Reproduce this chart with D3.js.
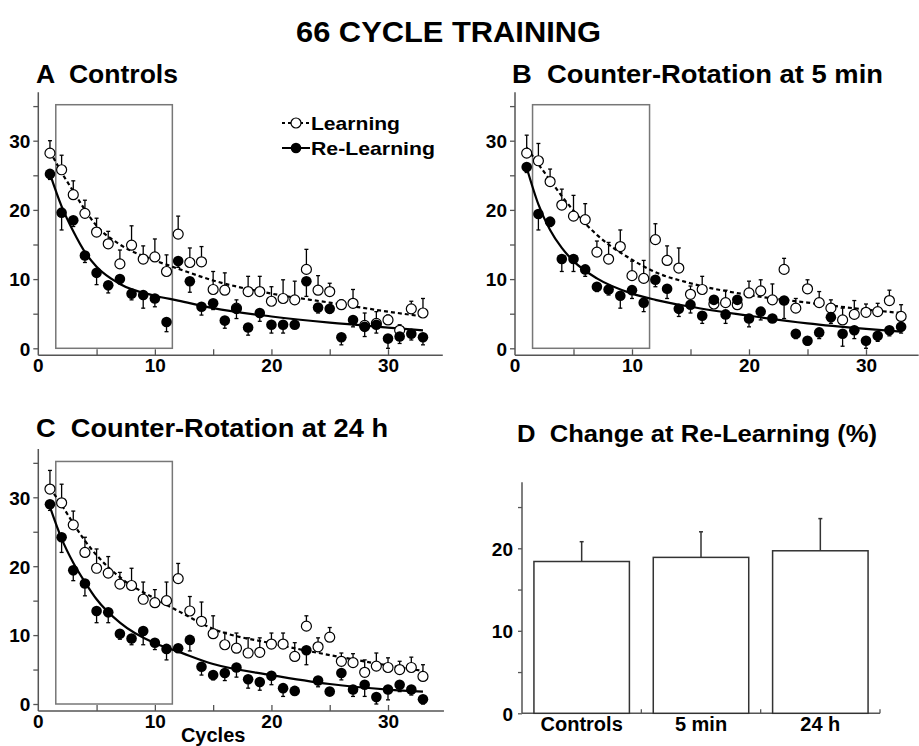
<!DOCTYPE html>
<html>
<head>
<meta charset="utf-8" />
<title>66 Cycle Training</title>
<style>
  body { margin: 0; background: #fff; }
  text { font-family: "Liberation Sans", Arial, Helvetica, sans-serif; font-weight: bold; fill: #000; white-space: pre; }
</style>
</head>
<body>
<script src="https://d3js.org/d3.v7.min.js"></script>
<script>

var cycles = [1,2,3,4,5,6,7,8,9,10,11,12,13,14,15,16,17,18,19,20,21,22,23,24,25,26,27,28,29,30,31,32,33];

// A  Controls
var ctrlLearn      = [28.2,25.8,22.2,19.5,16.8,15.1,12.2,14.9,12.9,13.2,11.1,16.5,12.4,12.5,8.5,8.4,5.8,8.2,8.2,6.8,7.2,7.0,11.4,8.4,8.2,6.3,6.5,3.3,3.6,4.1,2.6,5.7,5.1];
var ctrlLearnErr   = [30.0,27.9,24.2,21.4,18.8,16.9,14.2,17.7,14.8,15.8,13.5,19.1,14.5,14.7,11.1,10.9,7.0,10.4,10.4,8.9,9.9,9.7,14.3,10.5,9.4,7.0,8.5,5.1,5.3,4.8,3.4,6.8,7.2];
var ctrlRelearn    = [25.2,19.6,18.5,13.4,10.9,9.1,10.0,7.9,7.7,7.2,3.8,12.6,9.7,6.0,6.5,4.0,5.7,3.0,5.1,3.4,3.4,3.4,9.7,5.9,5.7,1.6,4.1,3.1,3.4,1.4,1.7,2.1,1.6];
var ctrlRelearnErr = [24.4,17.1,17.6,12.4,9.2,8.0,9.3,7.0,5.8,6.0,2.4,11.7,8.1,4.8,5.6,2.9,4.3,1.9,3.9,2.2,2.2,2.9,7.5,5.1,5.1,0.5,3.1,1.7,2.2,0.0,0.7,1.2,0.5];

// B  Counter-Rotation at 5 min
var min5Learn      = [28.2,27.1,24.1,20.7,19.1,18.6,13.9,12.9,14.7,10.5,10.1,15.7,12.7,11.6,7.8,8.5,6.4,6.6,6.3,8.0,8.3,7.0,11.4,5.8,8.6,6.6,5.8,4.1,4.9,5.2,5.3,6.9,4.6];
var min5LearnErr   = [30.8,29.6,25.9,23.0,22.1,20.9,15.5,15.3,17.1,12.6,12.7,18.0,14.8,14.5,9.0,10.4,7.6,8.4,7.5,9.7,9.9,9.3,13.0,7.2,9.9,8.2,7.0,5.8,6.9,6.4,6.5,8.4,6.3];
var min5Relearn    = [26.2,19.4,18.3,12.9,12.9,11.4,8.9,8.5,7.6,8.4,6.6,9.9,8.6,5.7,6.3,4.7,7.0,4.9,7.0,4.3,5.3,4.3,6.9,2.1,1.1,2.3,4.5,2.1,2.6,1.1,1.8,2.6,3.1];
var min5RelearnErr = [25.4,17.1,17.6,11.1,11.1,10.4,8.2,7.7,5.8,7.2,5.3,8.9,7.2,4.6,5.1,3.6,6.0,3.6,6.0,3.1,4.1,3.9,4.3,1.4,0.5,1.4,3.6,0.3,1.4,0.0,1.0,1.8,2.2];

// C  Counter-Rotation at 24 h
var h24Learn       = [31.2,29.2,26.0,22.0,19.7,19.0,17.4,17.2,15.2,14.7,15.0,18.2,13.5,12.0,10.2,8.6,8.1,7.4,7.5,8.7,8.7,6.9,11.3,8.3,9.7,6.2,6.0,4.6,5.5,5.3,5.0,5.3,4.0];
var h24LearnErr    = [33.9,31.9,28.0,24.2,22.5,21.4,19.1,19.7,17.7,16.6,17.7,20.4,15.6,14.8,12.8,10.4,10.3,9.6,9.6,10.3,10.3,8.9,12.8,9.6,11.1,7.4,7.3,6.4,7.4,6.7,6.2,6.8,5.7];
var h24Relearn     = [29.0,24.2,19.4,17.5,13.5,13.3,10.2,9.5,10.6,8.9,8.0,8.1,9.3,5.4,4.2,4.5,5.3,3.6,3.2,4.1,2.3,1.9,7.8,3.4,1.8,4.5,2.1,2.8,1.0,2.1,2.8,2.1,0.7];
var h24RelearnErr  = [28.1,22.0,17.9,15.7,11.8,11.8,9.4,8.6,8.6,7.9,6.4,7.5,7.7,4.2,3.5,3.4,3.9,2.3,2.0,2.8,1.1,1.9,5.7,2.5,1.8,3.5,1.1,1.1,0.0,0.6,1.8,1.3,0.0];

// fitted curves, read at a few cycles
var fitCycles      = [1,2,3,4,5,7,10,12,15,20,25,30,33];
var ctrlLearnFit   = [28.5,25.4,22.7,20.0,17.7,15.0,12.7,11.5,9.8,7.9,6.6,5.3,4.6];
var ctrlRelearnFit = [25.2,20.5,16.9,13.9,11.8,9.3,7.6,6.9,5.8,4.6,3.7,3.0,2.6];
var min5LearnFit   = [29.0,26.6,24.3,22.0,19.9,16.4,12.8,11.0,9.4,7.7,6.6,5.6,5.1];
var min5RelearnFit = [26.1,20.8,17.1,14.5,12.6,10.1,7.9,7.0,6.0,4.7,3.6,2.8,2.4];
var h24LearnFit    = [31.3,28.9,26.2,23.7,21.6,18.4,15.3,13.5,10.9,8.8,7.1,5.6,4.8];
var h24RelearnFit  = [28.6,24.0,20.5,17.7,15.2,11.8,8.8,7.6,5.8,4.2,2.9,2.1,1.8];

// highlighted cycle window (box)
var boxCycles = [1.5, 11.5];
var boxValues = [0, 35.2];

// D  Change at Re-Learning (%)
var groups     = ["Controls", "5 min", "24 h"];
var changeVals = [18.4, 18.9, 19.7];
var changeErr  = [20.8, 22.0, 23.6];

var width = 919, height = 746;
var axisColor = "#555";

var svg = d3.select("body").append("svg")
    .attr("width", width)
    .attr("height", height);

svg.append("text")
   .attr("x", 296).attr("y", 42)
   .attr("textLength", 305).attr("lengthAdjust", "spacingAndGlyphs")
   .style("font-size", "30px")
   .text("66 CYCLE TRAINING");

var panels = [
  {title: "A  Controls", tx: 36, ty: 83, tw: 142,
   xr: [38.3, 388], yr: [348.3, 140.7], xEnd: 34.7, legend: true,
   learn: ctrlLearn, learnErr: ctrlLearnErr, relearn: ctrlRelearn, relearnErr: ctrlRelearnErr,
   learnFit: ctrlLearnFit, relearnFit: ctrlRelearnFit, cyclesLabel: false},
  {title: "B  Counter-Rotation at 5 min", tx: 512, ty: 83, tw: 371,
   xr: [515, 866], yr: [348.3, 140.7], xEnd: 34.5, legend: false,
   learn: min5Learn, learnErr: min5LearnErr, relearn: min5Relearn, relearnErr: min5RelearnErr,
   learnFit: min5LearnFit, relearnFit: min5RelearnFit, cyclesLabel: false},
  {title: "C  Counter-Rotation at 24 h", tx: 36, ty: 437, tw: 352,
   xr: [38.3, 388], yr: [704, 497.3], xEnd: 34.8, legend: false,
   learn: h24Learn, learnErr: h24LearnErr, relearn: h24Relearn, relearnErr: h24RelearnErr,
   learnFit: h24LearnFit, relearnFit: h24RelearnFit, cyclesLabel: true}
];

panels.forEach(function(p) {
  var x = d3.scaleLinear().domain([0, 30]).range(p.xr);
  var y = d3.scaleLinear().domain([0, 30]).range(p.yr);
  var axisY = y(0) + 7;
  var g = svg.append("g");

  g.append("text")
   .attr("x", p.tx).attr("y", p.ty)
   .attr("textLength", p.tw).attr("lengthAdjust", "spacingAndGlyphs")
   .style("font-size", "26px")
   .text(p.title);

  // box
  g.append("rect")
   .attr("x", x(boxCycles[0]))
   .attr("y", y(boxValues[1]))
   .attr("width", x(boxCycles[1]) - x(boxCycles[0]))
   .attr("height", y(boxValues[0]) - y(boxValues[1]))
   .attr("fill", "none")
   .attr("stroke", "#777")
   .attr("stroke-width", 1.5);

  // axes
  var yAxis = d3.axisLeft(y).tickValues([0,5,10,15,20,25,30,35]).tickSize(5)
                .tickFormat(function(d) { return d % 10 === 0 ? d : ""; });
  var ya = g.append("g").attr("transform", "translate(" + x(0) + ",0)").call(yAxis);
  ya.select(".domain").remove();
  ya.selectAll("line").attr("stroke", axisColor).attr("stroke-width", 1.3);
  ya.selectAll("text").attr("x", -8).attr("dy", "0.36em")
    .style("font-size", "19px").style("font-family", null);

  g.append("line")
   .attr("x1", x(0)).attr("x2", x(0))
   .attr("y1", y(37)).attr("y2", axisY)
   .attr("stroke", axisColor).attr("stroke-width", 1.5);

  var xAxis = d3.axisBottom(x).tickValues([5,10,15,20,25,30]).tickSize(-6).tickPadding(3)
                .tickFormat(function(d) { return d % 10 === 0 ? d : ""; });
  var xa = g.append("g").attr("transform", "translate(0," + axisY + ")").call(xAxis);
  xa.select(".domain").remove();
  xa.selectAll("line").attr("stroke", axisColor).attr("stroke-width", 1.3);
  xa.selectAll("text").attr("y", 3).attr("dy", "0.71em")
    .style("font-size", "19px").style("font-family", null);
  g.append("text")
   .attr("x", x(0)).attr("y", axisY + 17)
   .attr("text-anchor", "middle")
   .style("font-size", "19px")
   .text("0");

  g.append("line")
   .attr("x1", x(0)).attr("x2", x(p.xEnd))
   .attr("y1", axisY).attr("y2", axisY)
   .attr("stroke", axisColor).attr("stroke-width", 1.5);

  if (p.cyclesLabel) {
    g.append("text")
     .attr("x", x(15)).attr("y", axisY + 31)
     .attr("text-anchor", "middle")
     .style("font-size", "20px")
     .text("Cycles");
  }

  // fitted curves
  var line = d3.line()
      .x(function(d, i) { return x(fitCycles[i]); })
      .y(function(d) { return y(d); })
      .curve(d3.curveMonotoneX);

  g.append("path").datum(p.learnFit)
   .attr("d", line)
   .attr("fill", "none").attr("stroke", "#000")
   .attr("stroke-width", 2.2).attr("stroke-dasharray", "4,3");
  g.append("path").datum(p.relearnFit)
   .attr("d", line)
   .attr("fill", "none").attr("stroke", "#000")
   .attr("stroke-width", 2.2);

  // error bars
  function errBars(vals, errs, cls) {
    var eb = g.append("g").attr("class", cls);
    eb.selectAll("line.v").data(vals).enter().append("line")
      .attr("x1", function(d, i) { return x(cycles[i]); })
      .attr("x2", function(d, i) { return x(cycles[i]); })
      .attr("y1", function(d) { return y(d); })
      .attr("y2", function(d, i) { return y(errs[i]); })
      .attr("stroke", "#000").attr("stroke-width", 1.3);
    eb.selectAll("line.c").data(vals).enter().append("line")
      .attr("x1", function(d, i) { return x(cycles[i]) - 2; })
      .attr("x2", function(d, i) { return x(cycles[i]) + 2; })
      .attr("y1", function(d, i) { return y(errs[i]); })
      .attr("y2", function(d, i) { return y(errs[i]); })
      .attr("stroke", "#000").attr("stroke-width", 1.3);
  }
  errBars(p.learn, p.learnErr, "learnErr");
  errBars(p.relearn, p.relearnErr, "relearnErr");

  g.append("g").selectAll("circle").data(p.learn).enter().append("circle")
   .attr("cx", function(d, i) { return x(cycles[i]); })
   .attr("cy", function(d) { return y(d); })
   .attr("r", 5)
   .attr("fill", "#fff").attr("stroke", "#000").attr("stroke-width", 1.2);

  g.append("g").selectAll("circle").data(p.relearn).enter().append("circle")
   .attr("cx", function(d, i) { return x(cycles[i]); })
   .attr("cy", function(d) { return y(d); })
   .attr("r", 5.3)
   .attr("fill", "#000");

  if (p.legend) {
    var lg = g.append("g");
    lg.append("line").attr("x1", 282).attr("x2", 310).attr("y1", 123).attr("y2", 123)
      .attr("stroke", "#000").attr("stroke-width", 2).attr("stroke-dasharray", "3,3");
    lg.append("circle").attr("cx", 296).attr("cy", 123).attr("r", 5)
      .attr("fill", "#fff").attr("stroke", "#000").attr("stroke-width", 1.2);
    lg.append("text").attr("x", 311).attr("y", 130)
      .attr("textLength", 89).attr("lengthAdjust", "spacingAndGlyphs")
      .style("font-size", "19px").text("Learning");
    lg.append("line").attr("x1", 282).attr("x2", 310).attr("y1", 148).attr("y2", 148)
      .attr("stroke", "#000").attr("stroke-width", 2);
    lg.append("circle").attr("cx", 296).attr("cy", 148).attr("r", 5.3).attr("fill", "#000");
    lg.append("text").attr("x", 311).attr("y", 155)
      .attr("textLength", 124).attr("lengthAdjust", "spacingAndGlyphs")
      .style("font-size", "19px").text("Re-Learning");
  }
});

// Panel D
(function() {
  var x = d3.scaleBand().domain(groups).range([522, 880]).paddingInner(0.2).paddingOuter(0.1);
  var y = d3.scaleLinear().domain([0, 20]).range([713.3, 548.3]);
  var g = svg.append("g");

  g.append("text")
   .attr("x", 517).attr("y", 442)
   .attr("textLength", 360).attr("lengthAdjust", "spacingAndGlyphs")
   .style("font-size", "24px")
   .text("D  Change at Re-Learning (%)");

  var yAxis = d3.axisLeft(y).tickValues([0,5,10,15,20,25]).tickSize(4)
                .tickFormat(function(d) { return d % 10 === 0 ? d : ""; });
  var ya = g.append("g").attr("transform", "translate(522,0)").call(yAxis);
  ya.select(".domain").remove();
  ya.selectAll("line").attr("stroke", axisColor).attr("stroke-width", 1.3);
  ya.selectAll("text").attr("x", -9).attr("dy", "0.36em")
    .style("font-size", "19px").style("font-family", null);

  g.append("line").attr("x1", 522).attr("x2", 522)
   .attr("y1", y(28)).attr("y2", y(0))
   .attr("stroke", axisColor).attr("stroke-width", 1.5);
  g.append("line").attr("x1", 522).attr("x2", 880)
   .attr("y1", y(0)).attr("y2", y(0))
   .attr("stroke", axisColor).attr("stroke-width", 1.5);

  // small separators between groups
  var step = x.step(), gap = step * x.paddingInner();
  groups.forEach(function(c) {
    var sx = x(c) + x.bandwidth() + gap / 2;
    g.append("line").attr("x1", sx).attr("x2", sx)
     .attr("y1", y(0)).attr("y2", y(0) - 4)
     .attr("stroke", axisColor).attr("stroke-width", 1.3);
  });

  g.selectAll("rect.bar").data(changeVals).enter().append("rect")
   .attr("x", function(d, i) { return x(groups[i]); })
   .attr("y", function(d) { return y(d); })
   .attr("width", x.bandwidth())
   .attr("height", function(d) { return y(0) - y(d); })
   .attr("fill", "#fff").attr("stroke", "#333").attr("stroke-width", 1.5);

  g.selectAll("line.err").data(changeVals).enter().append("line")
   .attr("x1", function(d, i) { return x(groups[i]) + x.bandwidth() / 2; })
   .attr("x2", function(d, i) { return x(groups[i]) + x.bandwidth() / 2; })
   .attr("y1", function(d) { return y(d); })
   .attr("y2", function(d, i) { return y(changeErr[i]); })
   .attr("stroke", "#333").attr("stroke-width", 1.5);
  g.selectAll("line.cap").data(changeVals).enter().append("line")
   .attr("x1", function(d, i) { return x(groups[i]) + x.bandwidth() / 2 - 2; })
   .attr("x2", function(d, i) { return x(groups[i]) + x.bandwidth() / 2 + 2; })
   .attr("y1", function(d, i) { return y(changeErr[i]); })
   .attr("y2", function(d, i) { return y(changeErr[i]); })
   .attr("stroke", "#333").attr("stroke-width", 1.5);

  g.selectAll("text.cat").data(groups).enter().append("text")
   .attr("x", function(d) { return x(d) + x.bandwidth() / 2; })
   .attr("y", 731)
   .attr("text-anchor", "middle")
   .style("font-size", "20px")
   .text(function(d) { return d; });
})();

</script>
</body>
</html>
